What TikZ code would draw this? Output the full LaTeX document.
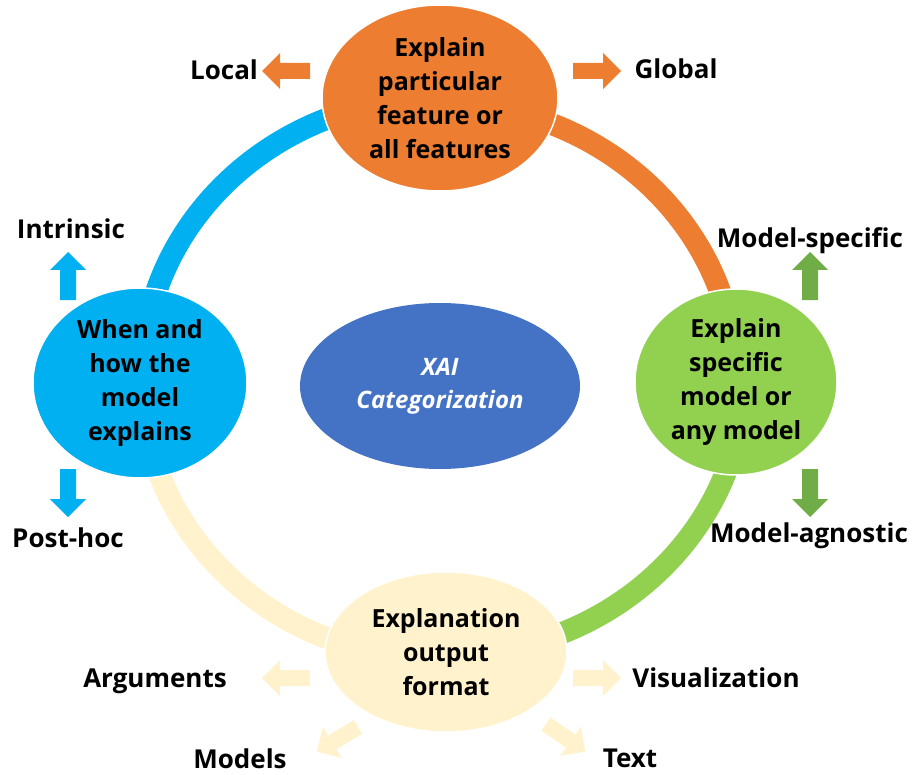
\documentclass[tikz,border=0pt]{standalone}
\usepackage{fontspec}
\setmainfont{Open Sans}
\usetikzlibrary{shapes.geometric}
\definecolor{xaiorange}{HTML}{ED7D31}
\definecolor{xaiblue}{HTML}{4472C4}
\definecolor{xaicyan}{HTML}{00B0F0}
\definecolor{xaigreen}{HTML}{92D050}
\definecolor{xaidkgreen}{HTML}{70AD47}
\definecolor{xaicream}{HTML}{FFF2CC}
\tikzset{
    bubble/.style={ellipse, draw=white, line width=1.5pt, inner sep=0pt, align=center,
        font=\fontsize{25}{34}\selectfont\bfseries},
    lbl/.style={anchor=base, inner sep=0pt, font=\fontsize{26}{34}\selectfont\bfseries},
    ringarc/.style={line width=22pt, x radius=298pt, y radius=279pt},
    blkarrow/.pic={\fill (0,-8)--(30,-8)--(30,-18)--(48,0)--(30,18)--(30,8)--(0,8)--cycle;}
}
\begin{document}
\begin{tikzpicture}[x=1pt, y=-1pt]
            \useasboundingbox (0, 0) rectangle (917, 775);
            \coordinate (topc) at (440, 98);
            \coordinate (leftc) at (142, 380);
            \coordinate (botc) at (446, 655);
            \coordinate (rightc) at (736, 382);
            \draw[ringarc, xaiorange] (rightc) arc[start angle=0, end angle=90];
            \draw[ringarc, xaicyan] (topc) arc[start angle=90, end angle=180];
            \draw[ringarc, xaicream] (leftc) arc[start angle=180, end angle=270];
            \draw[ringarc, xaigreen] (botc) arc[start angle=270, end angle=360];
            \node (feat)[bubble, fill=xaiorange, minimum width=236, minimum height=186] at (topc) {Explain\\particular\\feature or\\all features};
            \node (when)[bubble, fill=xaicyan, minimum width=214, minimum height=190] at (140, 383) {When and\\how the\\model\\explains};
            \node (spec)[bubble, fill=xaigreen, minimum width=202, minimum height=186] at (rightc) {Explain\\specific\\model or\\any model};
            \node (outp)[bubble, fill=xaicream, minimum width=242, minimum height=160] at (446, 652) {Explanation\\output\\format};
            \node (xai)[ellipse, fill=xaiblue, minimum width=280, minimum height=166, inner sep=0pt, align=center, text=white,
                font=\fontsize{24}{33}\selectfont\bfseries\itshape] at (440, 386) {XAI\\Categorization};
            \pic[fill=xaiorange, rotate=180] at (310, 71) {blkarrow};
            \pic[fill=xaiorange] at (573, 71) {blkarrow};
            \pic[fill=xaicyan, rotate=90] at (68, 300) {blkarrow};
            \pic[fill=xaicyan, rotate=-90] at (68, 469) {blkarrow};
            \pic[fill=xaidkgreen, rotate=90] at (810, 300) {blkarrow};
            \pic[fill=xaidkgreen, rotate=-90] at (810, 469) {blkarrow};
            \pic[fill=xaicream, rotate=180] at (310, 678) {blkarrow};
            \pic[fill=xaicream] at (573, 678) {blkarrow};
            \pic[fill=xaicream, rotate=211] at (358, 727) {blkarrow};
            \pic[fill=xaicream, rotate=-35] at (546, 724) {blkarrow};
            \node (local)[lbl] at (224, 80) {Local};
            \node (global)[lbl] at (676, 79) {Global};
            \node (intr)[lbl] at (71, 239) {Intrinsic};
            \node (post)[lbl] at (68, 547) {Post-hoc};
            \node (mspec)[lbl] at (810, 248) {Model-specific};
            \node (magn)[lbl] at (809, 542) {Model-agnostic};
            \node (args)[lbl] at (155, 687) {Arguments};
            \node (vis)[lbl] at (716, 687) {Visualization};
            \node (models)[lbl] at (240, 768) {Models};
            \node (text)[lbl] at (630, 767) {Text};
        \end{tikzpicture}
\end{document}
